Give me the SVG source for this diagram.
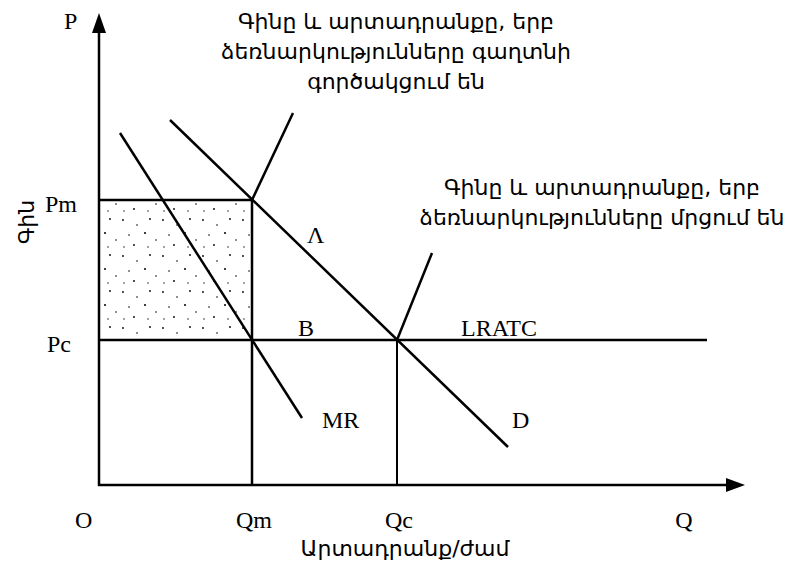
<svg xmlns="http://www.w3.org/2000/svg" width="793" height="563" viewBox="0 0 793 563">
<style>
.ln{stroke:#000;stroke-width:2.5;fill:none}
.th{stroke:#000;stroke-width:2;fill:none}
.lat{font-family:"Liberation Serif","Times New Roman",serif;font-size:24px;fill:#000}
.arm{font-family:"DejaVu Sans","Noto Sans",sans-serif;font-size:22px;fill:#000}
</style>
<defs>
<pattern id="dots" width="40" height="36" patternUnits="userSpaceOnUse">
<circle cx="3" cy="4" r="0.9" fill="#000"/>
<circle cx="17" cy="9" r="0.8" fill="#000"/>
<circle cx="30" cy="3" r="0.9" fill="#000"/>
<circle cx="9" cy="19" r="0.8" fill="#000"/>
<circle cx="25" cy="17" r="1" fill="#000"/>
<circle cx="36" cy="24" r="0.8" fill="#000"/>
<circle cx="14" cy="29" r="0.9" fill="#000"/>
<circle cx="28" cy="31" r="0.7" fill="#000"/>
<circle cx="4" cy="31" r="0.7" fill="#000"/>
</pattern>
</defs>
<rect width="793" height="563" fill="#fff"/>
<g id="shade"><rect x="100" y="201" width="151" height="138" fill="url(#dots)"/></g>
<g id="connectors">
<line class="ln" x1="99" y1="30" x2="99" y2="486"/>
<polygon points="99,13 92,33 106,33" fill="#000"/>
<line class="ln" x1="98" y1="485" x2="728" y2="485"/>
<polygon points="745,485 726,478 726,492" fill="#000"/>
<line class="ln" x1="99" y1="200" x2="252" y2="200"/>
<line class="ln" x1="99" y1="340" x2="707" y2="340"/>
<line class="ln" x1="252" y1="200" x2="252" y2="485"/>
<line class="th" x1="397" y1="340" x2="397" y2="485"/>
<line class="ln" x1="170" y1="120" x2="508" y2="447"/>
<line class="ln" x1="120" y1="133" x2="302" y2="418"/>
<line class="ln" x1="252" y1="200" x2="293" y2="113"/>
<line class="ln" x1="397" y1="340" x2="432" y2="253"/>
</g>
<g id="labels">
<text class="lat" x="64" y="29">P</text>
<text class="lat" x="45" y="212">Pm</text>
<text class="lat" x="47" y="352">Pc</text>
<text class="lat" x="75" y="528">O</text>
<text class="lat" x="254" y="528" text-anchor="middle">Qm</text>
<text class="lat" x="399" y="528" text-anchor="middle">Qc</text>
<text class="lat" x="684" y="528" text-anchor="middle">Q</text>
<text class="lat" x="307" y="243">Λ</text>
<text class="lat" x="298" y="336">B</text>
<text class="lat" x="461" y="336">LRATC</text>
<text class="lat" x="322" y="428">MR</text>
<text class="lat" x="512" y="428">D</text>
<text class="arm" x="405" y="556" text-anchor="middle">Արտադրանք/ժամ</text>
<text class="arm" transform="translate(34,222) rotate(-90)" text-anchor="middle">Գին</text>
<text class="arm" text-anchor="middle"><tspan x="396" y="29">Գինը և արտադրանքը, երբ</tspan><tspan x="396" y="59">ձեռնարկությունները գաղտնի</tspan><tspan x="396" y="89">գործակցում են</tspan></text>
<text class="arm" text-anchor="middle"><tspan x="602" y="195">Գինը և արտադրանքը, երբ</tspan><tspan x="602" y="225">ձեռնարկությունները մրցում են</tspan></text>
</g>
</svg>
